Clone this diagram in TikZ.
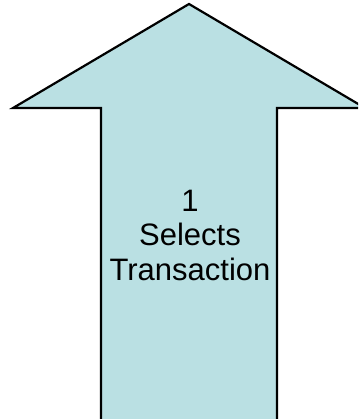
\documentclass[tikz,border=0pt]{standalone}
\usepackage{fontspec}
\setmainfont{Liberation Sans}
\definecolor{arrowfill}{HTML}{BAE0E3}
\tikzset{bigarrow/.style={draw=black, line width=2.2pt, fill=arrowfill, line join=miter},
  lbl/.style={align=center, font=\fontsize{31}{34.5}\selectfont, inner sep=0pt}}
\begin{document}
\begin{tikzpicture}[x=1pt,y=-1pt]
\useasboundingbox (0,0) rectangle (358,419);
\clip (0,0) rectangle (358,419);
\coordinate (tip) at (189,4);
\coordinate (hl) at (13,108);
\coordinate (hr) at (365,108);
\coordinate (sl) at (101,108);
\coordinate (sr) at (277,108);
\coordinate (bl) at (101,430);
\coordinate (br) at (277,430);
\draw[bigarrow] (tip) -- (hr) -- (sr) -- (br) -- (bl) -- (sl) -- (hl) -- cycle;
\node[lbl] (txt) at (190,235) {1\\Selects\\Transaction};
\end{tikzpicture}
\end{document}
